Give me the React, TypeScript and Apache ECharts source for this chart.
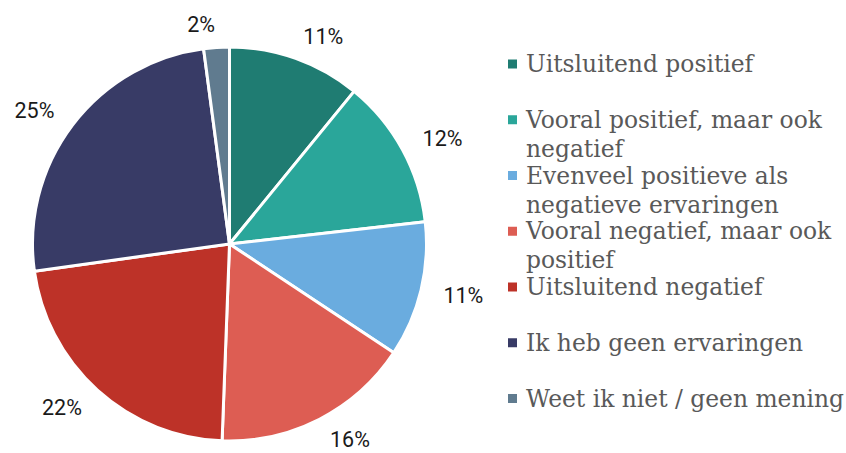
import React, { useEffect, useRef } from 'react';
import * as echarts from 'echarts';

const categories = [
  'Uitsluitend positief',
  'Vooral positief, maar ook negatief',
  'Evenveel positieve als negatieve ervaringen',
  'Vooral negatief, maar ook positief',
  'Uitsluitend negatief',
  'Ik heb geen ervaringen',
  'Weet ik niet / geen mening',
];
const legendLines = [
  ['Uitsluitend positief'],
  ['Vooral positief, maar ook', 'negatief'],
  ['Evenveel positieve als', 'negatieve ervaringen'],
  ['Vooral negatief, maar ook', 'positief'],
  ['Uitsluitend negatief'],
  ['Ik heb geen ervaringen'],
  ['Weet ik niet / geen mening'],
];
const values = [10.9, 12.3, 11.1, 16.3, 22.2, 25.1, 2.1];
const colors = ['#1f7c72', '#2aa69a', '#6aacdf', '#dd5d53', '#bd3228', '#383b66', '#607b8f'];

export default function App() {
  const ref = useRef<HTMLDivElement>(null);
  useEffect(() => {
    document.body.style.margin = '0';
    const chart = echarts.init(ref.current!, undefined, { renderer: 'svg' });
    const LH = 29;
    const legends = categories.map((name, i) => {
      const lines = legendLines[i];
      const wrapped = lines.length > 1;
      const c = 64 + 55.75 * i;
      const text = (wrapped ? ['{t| }'] : []).concat(lines.map((l) => '{t|' + l + '}')).join('\n');
      return {
        data: [name],
        orient: 'vertical',
        left: 508,
        top: wrapped ? c - LH * 1.5 : c - LH / 2,
        padding: 0,
        itemWidth: 9,
        itemHeight: 9,
        icon: 'rect',
        selectedMode: false,
        itemStyle: { borderWidth: 0 },
        formatter: () => text,
        textStyle: {
          fontFamily: 'DejaVu Serif',
          fontSize: 23.4,
          color: '#595959',
          lineHeight: LH,
          rich: {
            t: {
              fontFamily: 'DejaVu Serif',
              fontSize: 23.4,
              color: '#595959',
              lineHeight: LH,
              padding: [0, 0, 0, 4],
            },
          },
        },
      };
    });
    chart.setOption({
      animation: false,
      backgroundColor: '#ffffff',
      legend: legends,
      series: [
        {
          type: 'pie',
          center: [229.5, 244],
          radius: 197,
          startAngle: 90,
          clockwise: true,
          avoidLabelOverlap: false,
          itemStyle: { borderColor: '#ffffff', borderWidth: 3 },
          label: {
            position: 'outside',
            formatter: (p: any) => Math.round(p.percent) + '%',
            fontFamily: 'Roboto',
            fontSize: 21.5,
            color: '#1a1a1a',
            distanceToLabelLine: 0,
          },
          labelLine: { show: false, length: 23, length2: 0 },
          emphasis: { disabled: true },
          data: categories.map((n, i) => ({ name: n, value: values[i], itemStyle: { color: colors[i] } })),
        },
      ],
    });
    return () => chart.dispose();
  }, []);
  return <div ref={ref} style={{ width: 846, height: 453 }} />;
}
